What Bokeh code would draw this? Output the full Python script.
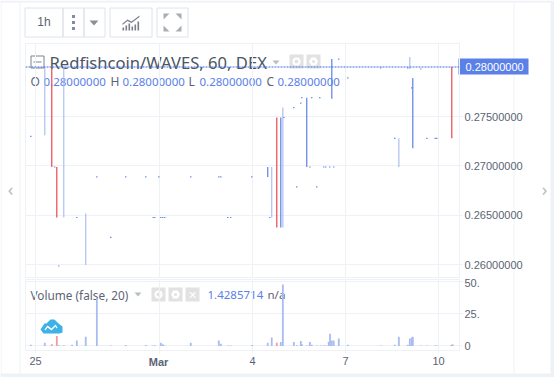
from bokeh.plotting import figure
from bokeh.layouts import column
from bokeh.embed import file_html
from bokeh.resources import INLINE
from bokeh.core.properties import value
from bokeh.models import Range1d, FixedTicker, ColumnDataSource, NumeralTickFormatter

# ---- data (x in hours since 25 Feb 00:00) ----
light_x    = [7.2, 21.9, 38.9, 182.9, 191.5, 281.3, 289.8]
light_low  = [.2731, .2648, .2600, .2648, .2638, .2699, .2798]
light_high = [.2800, .2800, .2652, .2699, .2759, .2728, .2810]

dark_x    = [179.8, 189.9, 210.0, 229.4, 292.1]
dark_low  = [.2689, .2638, .2699, .2768, .2718]
dark_high = [.2699, .2749, .2769, .2808, .2789]

red_x    = [12.6, 16.5, 186.8, 322.3]
red_low  = [.2699, .2648, .2638, .2728]
red_high = [.2800, .2699, .2749, .2800]

dot_x = [-3.6, 14.9, 18.0, 32.0, 47.5, 58.3, 69.9, 85.4, 91.1, 92.4, 95.5, 97.0, 98.6, 100.1, 120.2,
         141.9, 143.5, 148.9, 151.2, 167.5, 181.4, 192.3, 200.0, 202.3, 205.4, 206.2, 212.4, 213.9,
         217.8, 220.1, 223.2, 224.7, 227.8, 230.9, 234.8, 241.8, 267.3, 278.2, 288.2, 291.3, 298.3,
         303.0, 309.4, 310.7]
dot_y = [.2730, .2699, .2599, .2648, .2689, .2628, .2689, .2689, .2648, .2648, .2689, .2648, .2648, .2648, .2689,
         .2689, .2689, .2648, .2648, .2689, .2648, .2749, .2759, .2679, .27635, .2769, .2699, .2769,
         .2679, .2769, .2699, .2699, .2699, .2699, .2808, .2789, .2799, .2728, .2799, .2779, .2798,
         .2728, .2728, .2728]

vol_x = [-3.6, 7.2, 12.6, 16.5, 18.0, 21.9, 28.3, 32.0, 38.9, 47.5, 58.3, 69.9, 85.4, 90.6, 92.4, 97.0, 98.6, 100.1,
         120.2, 141.9, 143.5, 148.9, 151.2, 167.5, 179.8, 182.9, 186.8, 189.9, 191.5, 200.0, 202.3, 205.4,
         206.2, 210.0, 212.4, 213.9, 217.8, 220.9, 223.2, 224.7, 227.0, 228.0, 229.4, 230.9, 234.8, 241.8,
         267.3, 278.2, 281.3, 288.2, 289.8, 291.3, 292.1, 298.3, 303.0, 309.4, 310.7, 321.9, 322.9]
vol_v = [1.0, 2.6, 1.3, 7.9, 0.5, 0.5, 1.0, 4.2, 7.3, 37.3, 0.3, 0.8, 0.8, 0.3, 0.5, 2.6, 1.3, 0.3,
         2.6, 4.2, 1.8, 0.3, 0.3, 0.8, 2.6, 6.6, 2.6, 3.1, 48.0, 3.1, 0.5, 3.9, 1.3, 0.3, 3.1, 1.0,
         0.3, 0.3, 0.3, 0.3, 3.4, 9.6, 4.2, 4.2, 5.8, 1.0, 0.3, 1.0, 7.3, 1.0, 5.8, 6.6, 7.3, 0.3, 0.3,
         0.3, 0.3, 0.8, 1.4285714]
vol_red = [False, False, True, True, False, False, False, False, False, False, False, False, False, False, False, False, False, False,
           False, False, False, False, False, False, False, False, True, False, False, False, False, False, False, False, False, False,
           False, False, False, False, False, False, False, False, False, False, False, False, False, False, False, False, False, False, False,
           False, False, True, False]

x_ticks = [0, 96, 168, 240, 312]
x_labels = {0: "25", 96: "", 168: "4", 240: "7", 312: "10"}
price_ticks = [.26, .265, .27, .275]
vol_ticks = [0, 25, 50]
vol_labels = {0: "0", 25: "25.", 50: "50."}
last_price = 0.28
series_title = "Redfishcoin/WAVES, 60, DEX"

# ---- style ----
GRID = "#eef1f6"; BORDER = "#dde2ea"; TXT = "#5b6474"; BLUE = "#5b80e8"; LIGHT = "#a6b9f0"; RED = "#e8474c"
FONT = "Noto Sans"; AXF = "Liberation Sans"
W = 554; H = 377; H1 = 278; H2 = 99
XR = Range1d(-7.74, 328.26)

# ---- backdrop: panel, toolbar, legends ----
bg = figure(width=W, height=H, x_range=Range1d(0, W), y_range=Range1d(H, 0), x_axis_type=None, y_axis_type=None,
            output_backend="svg", toolbar_location=None, min_border=0, outline_line_color=None,
            background_fill_color="white", border_fill_color="white")
bg.grid.visible = False


def box(l, r, t, b, fill=None, line=None):
    bg.quad(left=[l], right=[r], top=[t], bottom=[b], fill_color=fill, fill_alpha=1 if fill else 0,
            line_color=line, line_alpha=1 if line else 0, line_width=1)


def txt(x, y, s, size=12, color=TXT, font=FONT, align="left", style="normal"):
    bg.text(x=[x], y=[y], text=[s], text_font=value(font), text_font_size=value(f"{size}px"), text_color=color,
            text_align=align, text_baseline="middle", text_font_style=style)


def poly(xs, ys, fill):
    bg.patch(xs, ys, fill_color=fill, line_color=None)


def eye(x, y):
    bg.scatter([x], [y], size=8, fill_color="white", line_color=None)
    bg.scatter([x], [y], size=4, fill_color="#e2e2e2", line_color=None)


def gear(x, y):
    bg.scatter([x], [y], size=9, marker="hex", fill_color="white", line_color=None)
    bg.scatter([x], [y], size=3, fill_color="#e2e2e2", line_color=None)


box(0, W, 0, 2, fill=GRID)
box(0, W, 373, H, fill=GRID)
box(0, 1, 0, H, fill=GRID)
box(550, W, 0, H, fill=GRID)
box(19, 20, 2, 373, fill=GRID)
box(513, 514, 2, 373, fill=GRID)

for (l, r) in [(24.5, 62.5), (62.5, 83.5), (83.5, 104.5), (109.5, 151.5), (156.5, 187.5)]:
    box(l, r, 7.5, 36.5, line=BORDER)
txt(43.5, 21.5, "1h", size=12, color="#5b6474", align="center", font=AXF)
for dy in (16, 22, 28):
    box(71.5, 74.5, dy - 1.5, dy + 1.5, fill="#7f8da3")
poly([89, 98, 93.5], [20, 20, 25], "#8a8f99")
for (bl, bt) in [(122, 27), (125, 25), (128, 23), (131, 26), (134, 24), (137, 21)]:
    box(bl, bl + 1.6, bt, 30, fill="#7a7f8a")
poly([122, 127, 131, 139, 139, 131, 127, 122], [23, 19, 21, 15, 16.5, 22.5, 20.5, 24.5], "#7a7f8a")
for (a, b, c, d, e, f) in [(163, 13, 169, 13, 163, 19), (181, 13, 175, 13, 181, 19),
                           (163, 31, 169, 31, 163, 25), (181, 31, 175, 31, 181, 25)]:
    poly([a, c, e], [b, d, f], "#a9adb4")
txt(10, 188, "‹", size=18, color="#b4bac4", align="center")
txt(544, 188, "›", size=18, color="#b4bac4", align="center")

txt(49, 62, series_title, size=16.6, color="#4b5563")
box(30.5, 43.5, 55.5, 67.5, line="#7a8290")
box(33, 41, 61, 62, fill="#7a8290")
poly([272, 279, 275.5], [60, 60, 64], "#b8bcc4")
for bx in (289, 306):
    box(bx, bx + 14, 54, 68, fill="#e2e2e2")
eye(296, 61)
gear(313, 61)

for (rx, vx, letter) in [(30, 43, "O"), (110, 122, "H"), (188, 199, "L"), (266, 277, "C")]:
    txt(rx, 81, letter, size=12)
    txt(vx, 81, f"{last_price:.8f}", size=11.5, color=BLUE)

txt(30, 294, "Volume (false, 20)", size=11.8)
poly([134, 141, 137.5], [292, 292, 296], "#b8bcc4")
for bx in (151, 168, 185):
    box(bx, bx + 14, 287, 301, fill="#e2e2e2")
eye(158, 294)
gear(175, 294)
txt(192, 294, "✕", size=11, color="white", align="center")
txt(207, 294, f"{vol_v[-1]:.7f}", size=11.5, color=BLUE)
txt(267, 294, "n/a", size=11.5)
txt(158, 361, "Mar", size=11, font=AXF, align="center", style="bold")

# price tag, under the transparent chart panes
box(458, 528, 58, 74, fill=BLUE)
txt(465, 66.5, f"{last_price:.8f}", size=11, color="white", font=AXF)


def base(height, top, bottom):
    p = figure(width=W, height=height, x_range=XR, output_backend="svg", toolbar_location=None,
               min_border_left=25, min_border_right=95, min_border_top=top, min_border_bottom=bottom,
               background_fill_alpha=0, border_fill_alpha=0, outline_line_color=GRID,
               y_axis_location="right")
    p.xgrid.ticker = FixedTicker(ticks=x_ticks)
    p.xgrid.grid_line_color = GRID
    p.ygrid.grid_line_color = GRID
    ax = p.yaxis[0]
    ax.axis_line_color = GRID
    ax.major_tick_line_color = GRID
    ax.minor_tick_line_color = None
    ax.major_tick_in = 0
    ax.major_tick_out = 3
    ax.major_label_text_color = TXT
    ax.major_label_text_font = AXF
    ax.major_label_text_font_size = "11px"
    ax.major_label_standoff = 2
    return p


# ---- price pane ----
p = base(H1, 43, 0)
p.y_range = Range1d(0.258636, 0.282374)
p.xaxis.visible = False
p.yaxis[0].ticker = FixedTicker(ticks=price_ticks)
p.yaxis[0].formatter = NumeralTickFormatter(format="0.00000000")
p.ygrid.ticker = FixedTicker(ticks=price_ticks)

p.segment(light_x, light_low, light_x, light_high, line_color=LIGHT, line_width=1.1)
p.segment(dark_x, dark_low, dark_x, dark_high, line_color=BLUE, line_width=1.2)
p.segment(red_x, red_low, red_x, red_high, line_color=RED, line_width=1.2)
p.rect(dot_x, dot_y, width=1.2, height=1.2, width_units="screen", height_units="screen", fill_color="#4f74e2", line_color=None)
p.line([XR.start, XR.end], [last_price, last_price], line_color="#3f6de0", line_dash="2 1", line_width=1)

# ---- volume pane ----
v = base(H2, 1, 27)
v.y_range = Range1d(-3.516, 51.95)
v.yaxis[0].ticker = FixedTicker(ticks=vol_ticks)
v.yaxis[0].major_label_overrides = vol_labels
v.ygrid.ticker = FixedTicker(ticks=vol_ticks)
ax = v.xaxis[0]
ax.ticker = FixedTicker(ticks=x_ticks)
ax.major_label_overrides = x_labels
ax.axis_line_color = GRID
ax.major_tick_line_color = GRID
ax.minor_tick_line_color = None
ax.major_tick_in = 0
ax.major_tick_out = 3
ax.major_label_text_color = TXT
ax.major_label_text_font = AXF
ax.major_label_text_font_size = "11px"
ax.major_label_standoff = 3

src = ColumnDataSource(dict(x=vol_x, top=vol_v, c=[("#ee9ca0" if r else "#a9bcf2") for r in vol_red]))
v.vbar(x="x", top="top", bottom=0, width=1.4, fill_color="c", line_color=None, source=src)

# cloud logo
poly([40, 44, 46, 50, 54, 58, 62, 62, 59, 43, 40], [329, 323, 323, 319, 319, 323, 326, 332, 333, 333, 329], "#3db2e6")
poly([44, 47, 51, 55, 57, 56, 55, 51, 47, 45], [329, 325, 328, 324, 327, 328, 326, 330, 327, 330], "white")

panes = column(p, v, spacing=0, styles={"position": "absolute", "left": "0px", "top": "0px"})
root = column(bg, panes, spacing=0, styles={"position": "absolute", "left": "0px", "top": "0px"})
open("out.html", "w").write(file_html(root, INLINE))
